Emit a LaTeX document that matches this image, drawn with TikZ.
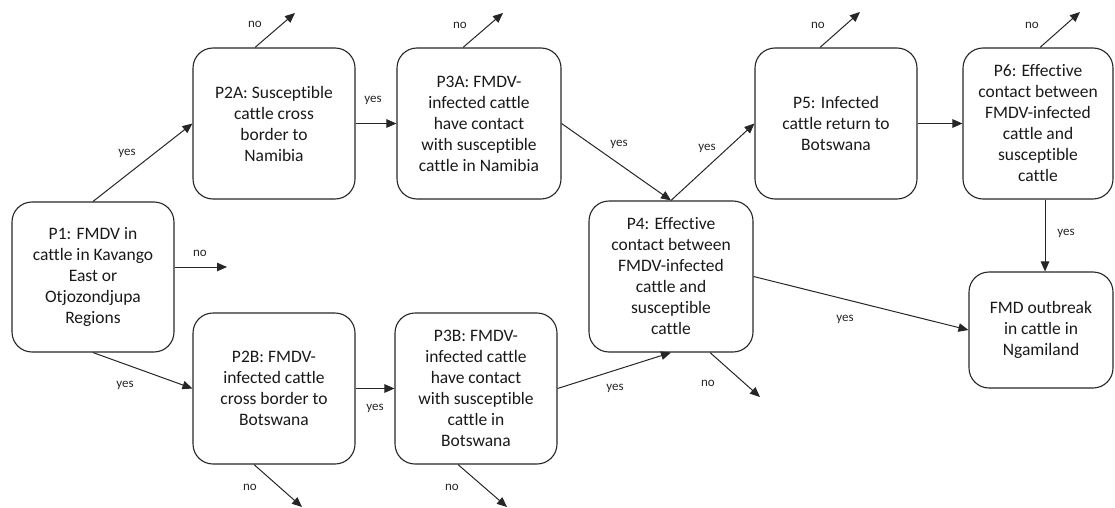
\documentclass[tikz,border=0pt]{standalone}
\usepackage{fontspec}
\setmainfont{Carlito}[Ligatures={NoCommon}]
\usetikzlibrary{arrows.meta}
\begin{document}
\begin{tikzpicture}[x=1pt,y=-1pt,
  box/.style={draw=black!85,line width=1.1pt,rounded corners=20pt,align=center,inner sep=0pt,
    font=\fontsize{17.5}{21}\selectfont,text=black!90,minimum height=151pt},
  arr/.style={draw=black!85,line width=1pt,-{Triangle[length=10pt,width=8.5pt]}},
  lbl/.style={font=\fontsize{13}{15}\selectfont,text=black!85,inner sep=0pt}]
\useasboundingbox (0,0) rectangle (1115,508);
\node[box,minimum width=162pt,minimum height=150pt] (P1) at (93,277) {P1: FMDV in\\cattle in Kavango\\East or\\Otjozondjupa\\Regions};
\node[box,minimum width=162pt] (P2A) at (274,123.5) {P2A: Susceptible\\cattle cross\\border to\\Namibia};
\node[box,minimum width=164pt] (P3A) at (479,123.5) {P3A: FMDV-\\infected cattle\\have contact\\with susceptible\\cattle in Namibia};
\node[box,minimum width=162pt] (P2B) at (274,388.5) {P2B: FMDV-\\infected cattle\\cross border to\\Botswana};
\node[box,minimum width=162pt] (P3B) at (476,388.5) {P3B: FMDV-\\infected cattle\\have contact\\with susceptible\\cattle in\\Botswana};
\node[box,minimum width=164pt] (P4) at (671,276.5) {P4: Effective\\contact between\\FMDV-infected\\cattle and\\susceptible\\cattle};
\node[box,minimum width=162pt] (P5) at (836,123.5) {P5: Infected\\cattle return to\\Botswana};
\node[box,minimum width=150pt] (P6) at (1038,123.5) {P6: Effective\\contact between\\FMDV-infected\\cattle and\\susceptible\\cattle};
\node[box,minimum width=144pt,minimum height=116pt] (FMD) at (1041,330) {FMD outbreak\\in cattle in\\Ngamiland};

% yes connectors
\draw[arr] (P1.north) -- (P2A.west);
\draw[arr] (P1.south) -- (P2B.west);
\draw[arr] (P2A.east) -- (P3A.west);
\draw[arr] (P2B.east) -- (P3B.west);
\draw[arr] (P3A.east) -- (P4.north);
\draw[arr] (P3B.east) -- (P4.south);
\draw[arr] (P4.north) -- (P5.west);
\draw[arr] (P5.east) -- (P6.west);
\draw[arr] (P4.east) -- (FMD.west);
\draw[arr] ([xshift=7pt]P6.south) -- ([xshift=7pt]P6.south |- FMD.north);

% no connectors
\coordinate (n1) at (227,267);
\draw[arr] ([yshift=10pt]P1.east) -- (n1);
\coordinate (n2a) at (295,13);
\draw[arr] ([xshift=-19pt]P2A.north) -- (n2a);
\coordinate (n3a) at (503,13);
\draw[arr] ([xshift=-16pt]P3A.north) -- (n3a);
\coordinate (n5) at (860,12);
\draw[arr] ([xshift=-16pt]P5.north) -- (n5);
\coordinate (n6) at (1080,12);
\draw[arr] ([xshift=2pt]P6.north) -- (n6);
\coordinate (n2b) at (302,507);
\draw[arr] ([xshift=-20pt]P2B.south) -- (n2b);
\coordinate (n3b) at (507,507);
\draw[arr] ([xshift=-18pt]P3B.south) -- (n3b);
\coordinate (n4) at (760,397);
\draw[arr] ([xshift=39pt]P4.south) -- (n4);

% labels
\node[lbl] (l1) at (200,253) {no};
\node[lbl] (l2) at (127,153) {yes};
\node[lbl] (l3) at (125,385) {yes};
\node[lbl] (l4) at (255,24) {no};
\node[lbl] (l5) at (373,100) {yes};
\node[lbl] (l6) at (375,408) {yes};
\node[lbl] (l7) at (250,487) {no};
\node[lbl] (l8) at (460,25) {no};
\node[lbl] (l9) at (619,144) {yes};
\node[lbl] (l10) at (707,148) {yes};
\node[lbl] (l11) at (615,388) {yes};
\node[lbl] (l12) at (708,383) {no};
\node[lbl] (l13) at (452,487) {no};
\node[lbl] (l14) at (845,319) {yes};
\node[lbl] (l15) at (818,25) {no};
\node[lbl] (l16) at (1032,25) {no};
\node[lbl] (l17) at (1066,233) {yes};
\end{tikzpicture}
\end{document}
